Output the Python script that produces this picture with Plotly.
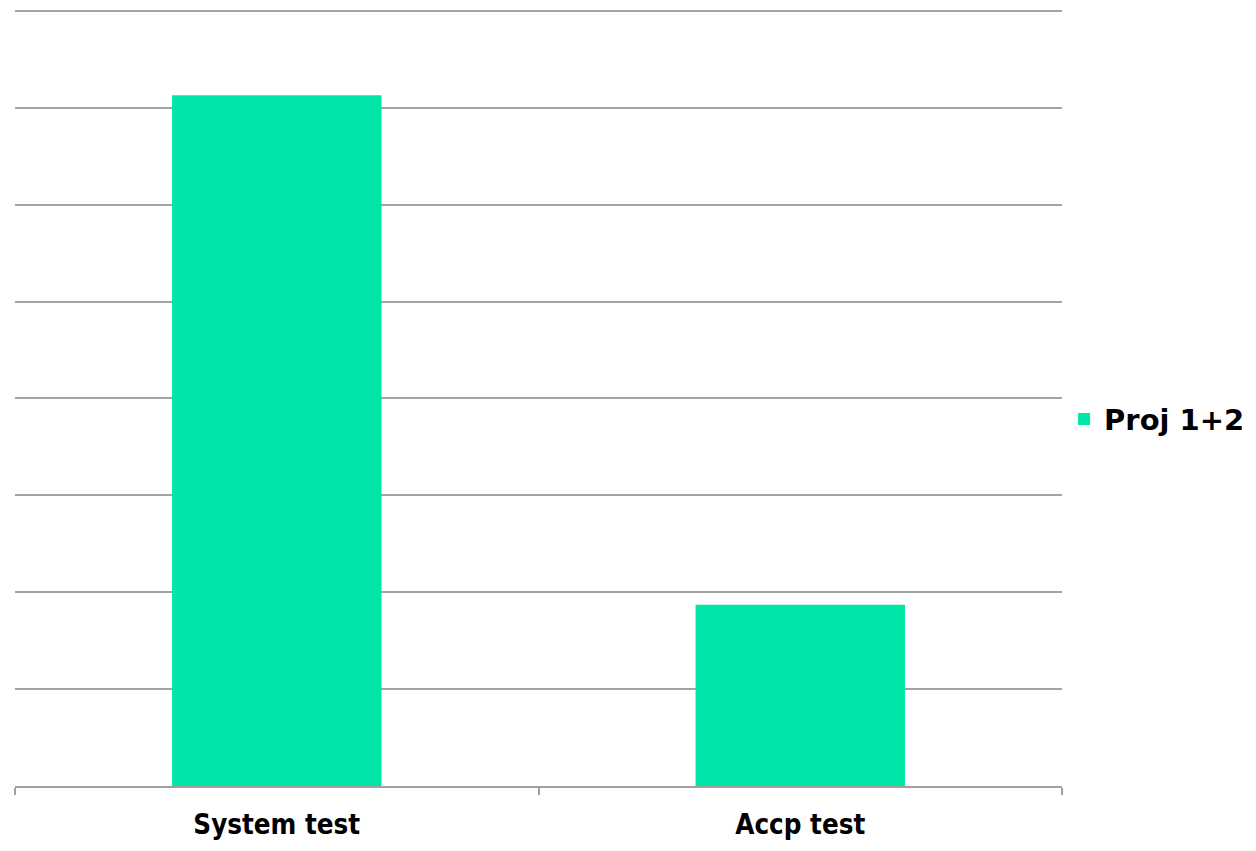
import plotly.graph_objects as go

categories = ["System test", "Accp test"]
values = [7.13, 1.87]
series_name = "Proj 1+2"

fig = go.Figure()
fig.add_trace(go.Bar(x=categories, y=values, name=series_name,
                     marker=dict(color="#00E5A8", line=dict(width=0)),
                     showlegend=True))

fig.update_layout(
    width=1256, height=851,
    margin=dict(l=7, r=202, t=1, b=73),
    paper_bgcolor="white", plot_bgcolor="white",
    bargap=0.6,
    showlegend=True,
    legend=dict(x=1.002, y=0.472, xanchor="left", yanchor="middle",
                font=dict(family="DejaVu Sans", size=29, color="black", weight="bold"),
                bgcolor="rgba(0,0,0,0)"),
    font=dict(family="DejaVu Sans", color="black"),
)
fig.update_xaxes(showline=True, linecolor="#a0a0a0", linewidth=2,
                 ticks="outside", tickson="boundaries", ticklen=7, tickcolor="#a0a0a0", tickwidth=2,
                 tickfont=dict(family="DejaVu Sans Condensed", size=27.5, color="black", weight="bold"),
                 ticklabelstandoff=13,
                 showgrid=False)
fig.update_yaxes(range=[0, 8.02], dtick=1, showticklabels=False, showgrid=True,
                 gridcolor="#a3a3a3", gridwidth=2, zeroline=False, showline=False, ticks="")

fig.write_html("out.html")
